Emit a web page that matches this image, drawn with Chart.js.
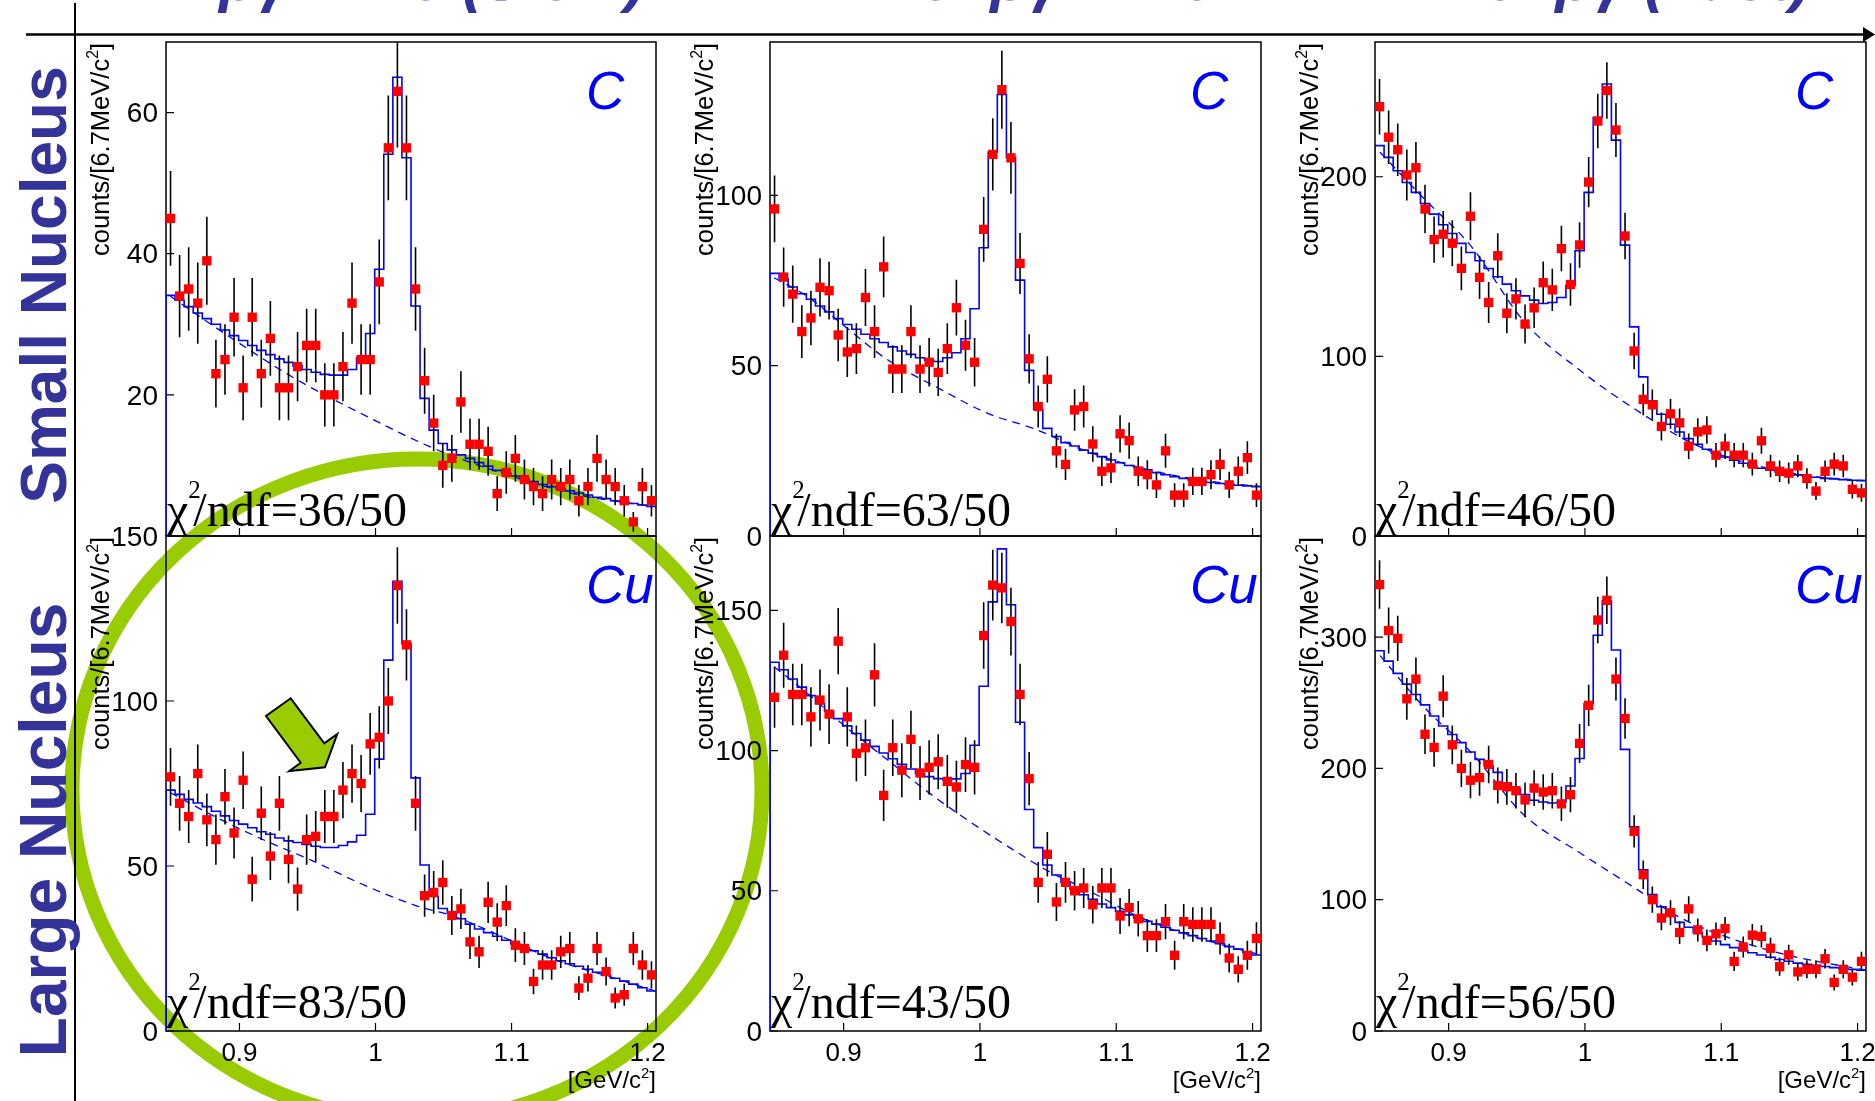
<!DOCTYPE html>
<html>
<head>
<meta charset="utf-8">
<script src="https://cdn.jsdelivr.net/npm/chart.js@4.4.1/dist/chart.umd.min.js"></script>
<style>
  html, body { margin: 0; padding: 0; background: #fff; }
  #page { position: relative; width: 1875px; height: 1101px; overflow: hidden; background: #fff; }
  #page canvas { position: absolute; }
</style>
</head>
<body>
<div id="page"><canvas id="deco" width="1875" height="1101" style="left:0;top:0"></canvas></div>
<script>
(function () {

  // K+K- invariant mass: 54 bins of 6.67 MeV/c2
  const massLow = 0.846, binWidth = 0.00667, nBins = 54;
  const massTicks = [0.9, 1.0, 1.1, 1.2];
  const massTickLabels = ['0.9', '1', '1.1', '1.2'];

  // C target, bg < 1.25
  const countsC1 = [45,34,35,33,39,23,25,31,21,31, 23,28,21,21,24,27,27,20,20,24,
    33,25,25,36,55,63,55,35,22,16, 10,11,19,13,13,12,6,9,11,8, 7,6,8,7,8,5,7,11,8,7, 5,2,7,5];
  const fitC1 = [34.1,33.4,32.5,31.6,30.8,30.0,29.2,28.4,27.7,27.0, 26.3,25.7,25.1,24.6,24.1,23.6,23.2,22.9,22.8,22.8,
    23.6,25.2,28.7,37.8,54.1,65.0,53.6,32.6,19.5,15.0, 13.1,12.2,11.5,11.0,10.4,9.9,9.3,8.9,8.5,8.1,
    7.7,7.3,7.0,6.7,6.4,6.1,5.8,5.5,5.3,5.0, 4.8,4.6,4.4,4.2];
  const bgMassC1 = [0.849,0.896,0.940,0.989,1.043,1.087,1.145,1.203];
  const bgC1 = [34.0,27.8,22.4,17.4,12.4,9.3,6.0,4.2];
  const yTicksC1 = [20, 40, 60];

  // C target, 1.25 < bg < 1.75
  const countsC2 = [96,76,71,60,64,73,72,59,54,55, 70,60,79,49,49,60,49,51,48,55,
    67,56,51,90,112,131,111,80,52,38, 46,25,21,37,38,27,19,20,30,28, 19,18,15,25,12,12,16,16,18,21, 15,19,23,12];
  const fitC2 = [77.1,75.5,73.1,71.1,69.5,67.5,65.8,63.8,62.1,60.7, 59.2,57.9,56.8,55.5,54.3,53.3,52.3,51.6,51.2,52.3,
    53.8,57.9,66.7,84.6,112.7,129.6,111.1,75.1,48.6,37.2, 31.6,29.2,27.4,26.4,25.2,24.3,23.3,22.3,21.5,20.7,
    20.1,19.4,18.6,18.0,17.4,16.9,16.4,16.0,15.7,15.4, 15.1,14.9,14.7,14.5];
  const bgMassC2 = [0.849,0.8727,0.9007,0.9316,0.9709,1.0045,1.041,1.0775,1.1168,1.1589,1.206];
  const bgC2 = [75.8,70.5,61.6,51.9,43.1,36.2,31.3,25.0,20.1,16.6,14.5];
  const yTicksC2 = [0, 50, 100];

  // C target, bg > 1.75
  const countsC3 = [239,222,215,201,205,182,165,168,163,149, 178,144,130,156,124,132,118,127,141,137,
    160,140,162,197,231,248,226,167,103,76, 73,61,68,63,50,58,59,45,50,45, 45,40,53,39,36,35,39,32,25,36, 40,39,26,24];
  const fitC3 = [217.3,210.8,203.3,196.8,191.3,185.1,179.2,173.3,168.4,162.9, 157.8,153.2,148.9,144.3,140.2,136.5,133.7,131.3,129.4,130.0,
    132.8,139.6,158.8,191.3,233.0,251.6,220.4,161.9,116.4,88.6, 75.2,67.8,62.2,57.9,54.2,51.1,48.3,46.1,44.0,42.2,
    40.5,39.0,37.7,36.6,35.7,34.7,34.0,33.2,32.7,32.1, 31.8,31.4,31.0,30.8];
  const bgMassC3 = [0.8497,0.8822,0.9162,0.9558,0.9954,1.0406,1.0802,1.1227,1.1651,1.206];
  const bgC3 = [213.6,187.6,161.6,119.0,92.8,68.7,51.1,39.9,33.4,30.8];
  const yTicksC3 = [0, 100, 200];

  // Cu target, bg < 1.25
  const countsCu1 = [77,69,65,78,64,58,71,60,76,46, 66,53,69,52,43,58,59,65,65,73,
    78,75,87,89,100,135,117,69,41,42, 45,35,37,27,24,39,33,38,26,25, 15,20,20,24,25,13,16,25,18,10, 11,25,20,17];
  const fitCu1 = [73.0,71.7,70.2,69.1,68.0,66.6,65.2,63.8,62.7,61.6, 60.4,59.6,58.5,57.6,57.1,56.5,56.0,55.6,55.6,56.2,
    57.3,59.3,65.7,82.4,112.4,136.3,117.4,76.7,50.3,40.8, 37.1,35.7,34.0,32.4,30.9,29.8,28.7,27.5,26.4,25.3,
    24.3,23.3,22.2,21.3,20.4,19.6,18.7,17.8,16.9,16.0, 15.1,14.2,13.1,12.1];
  const bgMassCu1 = [0.8492,0.8846,0.9194,0.9542,0.989,1.0296,1.0587,1.0877,1.1312,1.1747,1.206];
  const bgCu1 = [72.2,64.4,57.6,51.5,44.7,38.0,34.6,29.6,21.7,16.1,12.1];
  const yTicksCu1 = [0, 50, 100, 150];

  // Cu target, 1.25 < bg < 1.75
  const countsCu2 = [119,134,120,120,112,118,113,139,112,99, 101,127,84,101,93,104,92,94,96,89,
    87,95,94,141,159,158,146,120,90,53, 63,46,53,50,51,45,51,51,41,44, 40,34,34,39,27,39,38,38,38,33, 26,22,27,33];
  const fitCu2 = [131.5,128.8,125.5,122.6,119.6,116.7,114.0,111.4,108.8,106.1, 103.7,101.5,99.1,97.1,95.1,93.4,91.8,90.7,90.0,89.6,
    89.9,91.8,101.9,122.9,153.0,171.9,152.0,110.1,79.0,65.4, 59.2,55.6,53.0,50.6,48.6,47.0,45.3,44.0,42.7,41.4,
    40.3,39.1,38.1,37.0,35.9,35.0,34.0,33.0,32.1,31.1, 30.1,29.2,28.1,27.1];
  const bgMassCu2 = [0.849,0.8727,0.9007,0.9316,0.9624,0.9933,1.027,1.0494,1.0775,1.1168,1.1589,1.206];
  const bgCu2 = [129.9,120.7,108.8,96.9,85.0,74.4,63.8,57.2,50.6,40.7,33.4,27.1];
  const yTicksCu2 = [0, 50, 100, 150];

  // Cu target, bg > 1.75
  const countsCu3 = [340,305,299,253,268,226,216,255,218,200, 191,193,203,187,186,183,176,185,182,183,
    173,180,219,248,313,328,268,238,152,119, 100,86,90,75,93,77,69,74,78,53, 64,73,72,63,49,58,45,47,47,55, 37,47,41,53];
  const fitCu3 = [289.6,281.7,272.4,264.2,256.3,248.4,239.9,232.3,225.8,219.6, 212.5,206.9,201.8,197.0,189.1,184.3,180.1,175.8,174.4,173.6,
    174.4,186.6,207.5,249.2,301.4,327.7,290.2,214.5,155.5,122.8, 103.9,94.6,87.8,82.7,79.0,74.8,71.4,68.6,65.8,63.5,
    61.2,59.6,57.9,56.2,54.5,53.1,51.7,50.8,50.0,49.1, 48.3,47.4,46.9,46.3];
  const bgMassCu3 = [0.8497,0.8822,0.9162,0.9558,0.9954,1.0378,1.0689,1.1085,1.151,1.206];
  const bgCu3 = [285.9,246.4,212.5,164.0,136.3,108.1,86.9,70.0,57.3,46.3];
  const yTicksCu3 = [0, 100, 200, 300];

  const chiLabels = ['36/50', '63/50', '46/50', '83/50', '43/50', '56/50'];
  const headers = ['\u03b2\u03b3<1.25 (Slow)', '1.25<\u03b2\u03b3<1.75', '1.75<\u03b2\u03b3 (Fast)'];

  const SANS = '"Liberation Sans", Arial, sans-serif';
  const SERIF = '"Liberation Serif", "Times New Roman", serif';

  // panel frames on the page
  const cols = [[166, 656], [770, 1261], [1375, 1866]];
  const rows = [[42, 536], [536, 1031]];

  const panels = [
    { counts: countsC1, fit: fitC1, bgMass: bgMassC1, bg: bgC1, yMax: 70, yTicks: yTicksC1, chi: chiLabels[0], target: 'C', col: 0, row: 0 },
    { counts: countsC2, fit: fitC2, bgMass: bgMassC2, bg: bgC2, yMax: 145, yTicks: yTicksC2, chi: chiLabels[1], target: 'C', col: 1, row: 0 },
    { counts: countsC3, fit: fitC3, bgMass: bgMassC3, bg: bgC3, yMax: 275, yTicks: yTicksC3, chi: chiLabels[2], target: 'C', col: 2, row: 0 },
    { counts: countsCu1, fit: fitCu1, bgMass: bgMassCu1, bg: bgCu1, yMax: 150, yTicks: yTicksCu1, chi: chiLabels[3], target: 'Cu', col: 0, row: 1 },
    { counts: countsCu2, fit: fitCu2, bgMass: bgMassCu2, bg: bgCu2, yMax: 176.5, yTicks: yTicksCu2, chi: chiLabels[4], target: 'Cu', col: 1, row: 1 },
    { counts: countsCu3, fit: fitCu3, bgMass: bgMassCu3, bg: bgCu3, yMax: 377, yTicks: yTicksCu3, chi: chiLabels[5], target: 'Cu', col: 2, row: 1 }
  ];

  // text made of pieces with their own size / vertical shift
  function drawRich(ctx, x, y, segs, size, family, align) {
    ctx.textAlign = 'left';
    const widths = segs.map(s => { ctx.font = `${size * s.k}px ${family}`; return ctx.measureText(s.t).width; });
    const total = widths.reduce((a, b) => a + b, 0);
    let cx = align === 'right' ? x - total : x;
    segs.forEach((s, i) => {
      ctx.font = `${size * s.k}px ${family}`;
      ctx.fillText(s.t, cx, y + s.dy * size);
      cx += widths[i];
    });
  }

  function panelPlugin(p) {
    const top = p.row === 0;
    return {
      id: 'panelFrame',
      beforeDatasetsDraw(chart) {
        const { ctx, chartArea: a, scales: { x, y } } = chart;
        ctx.save();
        ctx.strokeStyle = '#000';
        ctx.lineWidth = 1.5;
        ctx.strokeRect(a.left, a.top, a.right - a.left, a.bottom - a.top);
        ctx.beginPath();
        p.yTicks.forEach(v => {
          const py = y.getPixelForValue(v);
          ctx.moveTo(a.left, py);
          ctx.lineTo(a.left + 8, py);
        });
        massTicks.forEach(v => {
          const px = x.getPixelForValue(v);
          ctx.moveTo(px, a.bottom);
          ctx.lineTo(px, a.bottom - 8);
        });
        ctx.lineWidth = 1.2;
        ctx.stroke();
        ctx.restore();
      },
      afterDatasetsDraw(chart) {
        const { ctx, chartArea: a, scales: { x, y } } = chart;
        ctx.save();
        ctx.fillStyle = '#000';

        // y tick labels
        ctx.font = `28px ${SANS}`;
        ctx.textAlign = 'right';
        ctx.textBaseline = 'middle';
        p.yTicks.forEach(v => ctx.fillText(String(v), a.left - 8, y.getPixelForValue(v) + 2));

        // y title, reads upward, ends at the top of the frame
        ctx.textBaseline = 'alphabetic';
        ctx.save();
        ctx.translate(a.left - 57, a.top + 1);
        ctx.rotate(-Math.PI / 2);
        drawRich(ctx, 0, 0, [
          { t: 'counts/[6.7MeV/c', k: 1, dy: 0 },
          { t: '2', k: 0.62, dy: -0.42 },
          { t: ']', k: 1, dy: 0 }
        ], 25.5, SANS, 'right');
        ctx.restore();

        // x axis labels on the lower row only
        if (!top) {
          ctx.font = `26px ${SANS}`;
          ctx.textAlign = 'center';
          massTicks.forEach((v, i) => ctx.fillText(massTickLabels[i], x.getPixelForValue(v), a.bottom + 30));
          drawRich(ctx, a.right, a.bottom + 57, [
            { t: '[GeV/c', k: 1, dy: 0 },
            { t: '2', k: 0.62, dy: -0.42 },
            { t: ']', k: 1, dy: 0 }
          ], 24, SANS, 'right');
        }

        // chi2 / ndf
        const s = 48;
        const base = a.bottom - (top ? 10 : 13);
        ctx.textAlign = 'left';
        ctx.font = `${s}px ${SERIF}`;
        ctx.fillText('\u03c7', a.left + 1, base);
        const wChi = ctx.measureText('\u03c7').width;
        ctx.fillText('/ndf=' + p.chi, a.left + wChi + 6, base);
        ctx.font = `${Math.round(s * 0.52)}px ${SERIF}`;
        ctx.fillText('2', a.left + wChi + 1, base - s * 0.58);

        // target name
        ctx.fillStyle = '#0000ff';
        ctx.font = `italic 53px ${SANS}`;
        ctx.fillText(p.target, a.left + 420, a.top + 67);
        ctx.restore();
      }
    };
  }

  const page = document.getElementById('page');

  panels.forEach(p => {
    const [l, r] = cols[p.col];
    const [t, b] = rows[p.row];
    const pad = { left: 110, right: 30, top: 20, bottom: p.row ? 70 : 24 };
    const cv = document.createElement('canvas');
    cv.width = r - l + pad.left + pad.right;
    cv.height = b - t + pad.top + pad.bottom;
    cv.style.left = (l - pad.left) + 'px';
    cv.style.top = (t - pad.top) + 'px';
    page.appendChild(cv);

    const centers = p.counts.map((_, i) => massLow + (i + 0.5) * binWidth);
    const points = p.counts.map((n, i) => ({ x: centers[i], y: n }));
    // Poisson errors, sqrt(N), as drawn in the plot
    const errBars = [];
    p.counts.forEach((n, i) => {
      const e = Math.sqrt(n);
      errBars.push({ x: centers[i], y: n - e }, { x: centers[i], y: n + e }, { x: centers[i], y: null });
    });
    // fitted histogram, drawn from zero at the lower edge
    const steps = [{ x: massLow, y: 0 }];
    p.fit.forEach((v, i) => steps.push({ x: massLow + i * binWidth, y: v }));
    steps.push({ x: massLow + nBins * binWidth, y: p.fit[nBins - 1] });
    const bgLine = p.bgMass.map((m, i) => ({ x: m, y: p.bg[i] }));

    new Chart(cv.getContext('2d'), {
      type: 'scatter',
      data: {
        datasets: [
          { type: 'scatter', data: points, pointStyle: 'rect', pointRadius: 6.6, pointHoverRadius: 6.6,
            backgroundColor: '#ff0000', borderWidth: 0, order: 0 },
          { type: 'line', data: errBars, borderColor: '#000', borderWidth: 1.6, pointRadius: 0,
            spanGaps: false, order: 1 },
          { type: 'line', data: steps, stepped: true, borderColor: '#0000ff', borderWidth: 1.6,
            pointRadius: 0, order: 2 },
          { type: 'line', data: bgLine, borderColor: '#0000ff', borderWidth: 1.3, borderDash: [8, 6],
            pointRadius: 0, cubicInterpolationMode: 'monotone', order: 3 }
        ]
      },
      options: {
        responsive: false,
        devicePixelRatio: 1,
        animation: false,
        events: [],
        layout: { padding: pad },
        plugins: { legend: { display: false }, tooltip: { enabled: false } },
        scales: {
          x: { type: 'linear', min: massLow, max: massLow + nBins * binWidth, display: false },
          y: { type: 'linear', min: 0, max: p.yMax, display: false }
        }
      },
      plugins: [panelPlugin(p)]
    });
  });

  // page decorations: ring, arrow, axis line, headers, row labels
  const d = document.getElementById('deco').getContext('2d');

  d.strokeStyle = '#99cc00';
  d.lineWidth = 15;
  d.beginPath();
  d.ellipse(417, 790, 345, 331, 0, 0, 2 * Math.PI);
  d.stroke();

  d.beginPath();
  [[290.7, 698.3], [324.3, 743.3], [337.3, 734], [325, 767.3], [289.3, 771], [300.7, 762.7], [266, 716]]
    .forEach(([px, py], i) => (i ? d.lineTo(px, py) : d.moveTo(px, py)));
  d.closePath();
  d.fillStyle = '#99cc00';
  d.fill();
  d.lineWidth = 2;
  d.strokeStyle = '#000';
  d.stroke();

  d.lineWidth = 2.5;
  d.beginPath();
  d.moveTo(26, 34.5);
  d.lineTo(1864, 34.5);
  d.stroke();
  d.beginPath();
  d.moveTo(1863, 27);
  d.lineTo(1875, 34.5);
  d.lineTo(1863, 42);
  d.closePath();
  d.fillStyle = '#000';
  d.fill();

  d.lineWidth = 2;
  d.beginPath();
  d.moveTo(75, 3);
  d.lineTo(75, 1101);
  d.stroke();

  d.fillStyle = '#333399';
  d.font = `italic bold 61px ${SANS}`;
  d.textAlign = 'left';
  d.textBaseline = 'alphabetic';
  d.fillText(headers[0], 219, 0);
  d.fillText(headers[1], 836, 0);
  d.fillText(headers[2], 1401, 0);

  d.textAlign = 'center';
  [['Small Nucleus', 285, 64], ['Large Nucleus', 830, 66]].forEach(([txt, cy, size]) => {
    d.save();
    d.translate(66, cy);
    d.rotate(-Math.PI / 2);
    d.font = `bold ${size}px ${SANS}`;
    d.fillText(txt, 0, 0);
    d.restore();
  });

})();
</script>
</body>
</html>
